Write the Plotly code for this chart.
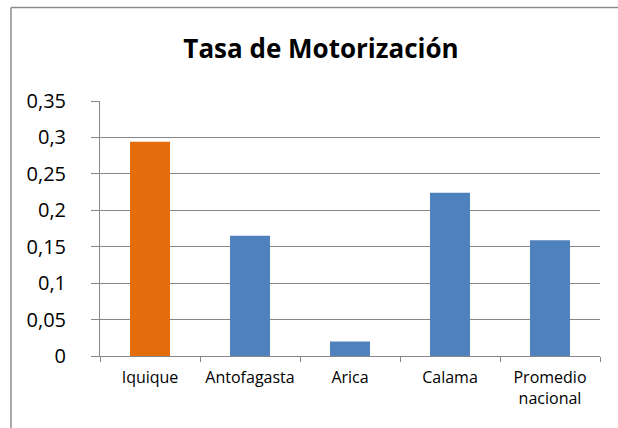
import plotly.graph_objects as go

categories = ["Iquique", "Antofagasta", "Arica", "Calama", "Promedio<br>nacional"]
values = [0.294, 0.165, 0.020, 0.224, 0.159]
bar_colors = ["#E46C0A", "#4F81BD", "#4F81BD", "#4F81BD", "#4F81BD"]
y_tickvals = [0, 0.05, 0.1, 0.15, 0.2, 0.25, 0.3, 0.35]
y_ticktext = ["0", "0,05", "0,1", "0,15", "0,2", "0,25", "0,3", "0,35"]

W, H = 618, 428
L, R, T, B = 100, 18, 101, 72
pw, ph = W - L - R, H - T - B

fig = go.Figure(go.Bar(
    x=categories, y=values, marker=dict(color=bar_colors, line=dict(width=0)),
    width=0.4,
))

def px_x(p):
    return (p - L) / pw

def px_y(p):
    return 1 - (p - T) / ph

frame = dict(color="#8C8C8C", width=1.5)
fig.add_shape(type="line", xref="paper", yref="paper",
              x0=px_x(11), x1=px_x(W), y0=px_y(7.5), y1=px_y(7.5), line=frame)
fig.add_shape(type="line", xref="paper", yref="paper",
              x0=px_x(11), x1=px_x(11), y0=px_y(7.5), y1=px_y(H), line=frame)

fig.update_layout(
    width=W, height=H,
    margin=dict(l=L, r=R, t=T, b=B, autoexpand=False),
    paper_bgcolor="white", plot_bgcolor="white",
    showlegend=False,
    separators=",.",
    title=dict(text="<b>Tasa de Motorización</b>", x=321 / W, xanchor="center",
               y=1 - 49 / H, yanchor="middle",
               font=dict(family="Open Sans", size=26, color="black")),
    font=dict(family="Open Sans", color="black"),
    xaxis=dict(
        type="category", showgrid=False, showline=True, linecolor="#868686", linewidth=1,
        ticks="outside", tickson="boundaries", ticklen=5, tickcolor="#868686",
        tickfont=dict(size=16, family="Open Sans", color="black"),
        tickangle=0, ticklabelstandoff=7,
    ),
    yaxis=dict(
        range=[0, 0.35], tickvals=y_tickvals, ticktext=y_ticktext,
        showgrid=True, gridcolor="#868686", gridwidth=1,
        showline=True, linecolor="#868686", linewidth=1,
        ticks="outside", ticklen=8, tickcolor="#868686",
        tickfont=dict(size=20, family="Open Sans", color="black"),
        ticklabelstandoff=21, zeroline=False,
    ),
)

fig.write_html("out.html", config={"displayModeBar": False},
               post_script="document.body.style.margin='0';document.body.style.overflow='hidden';")
